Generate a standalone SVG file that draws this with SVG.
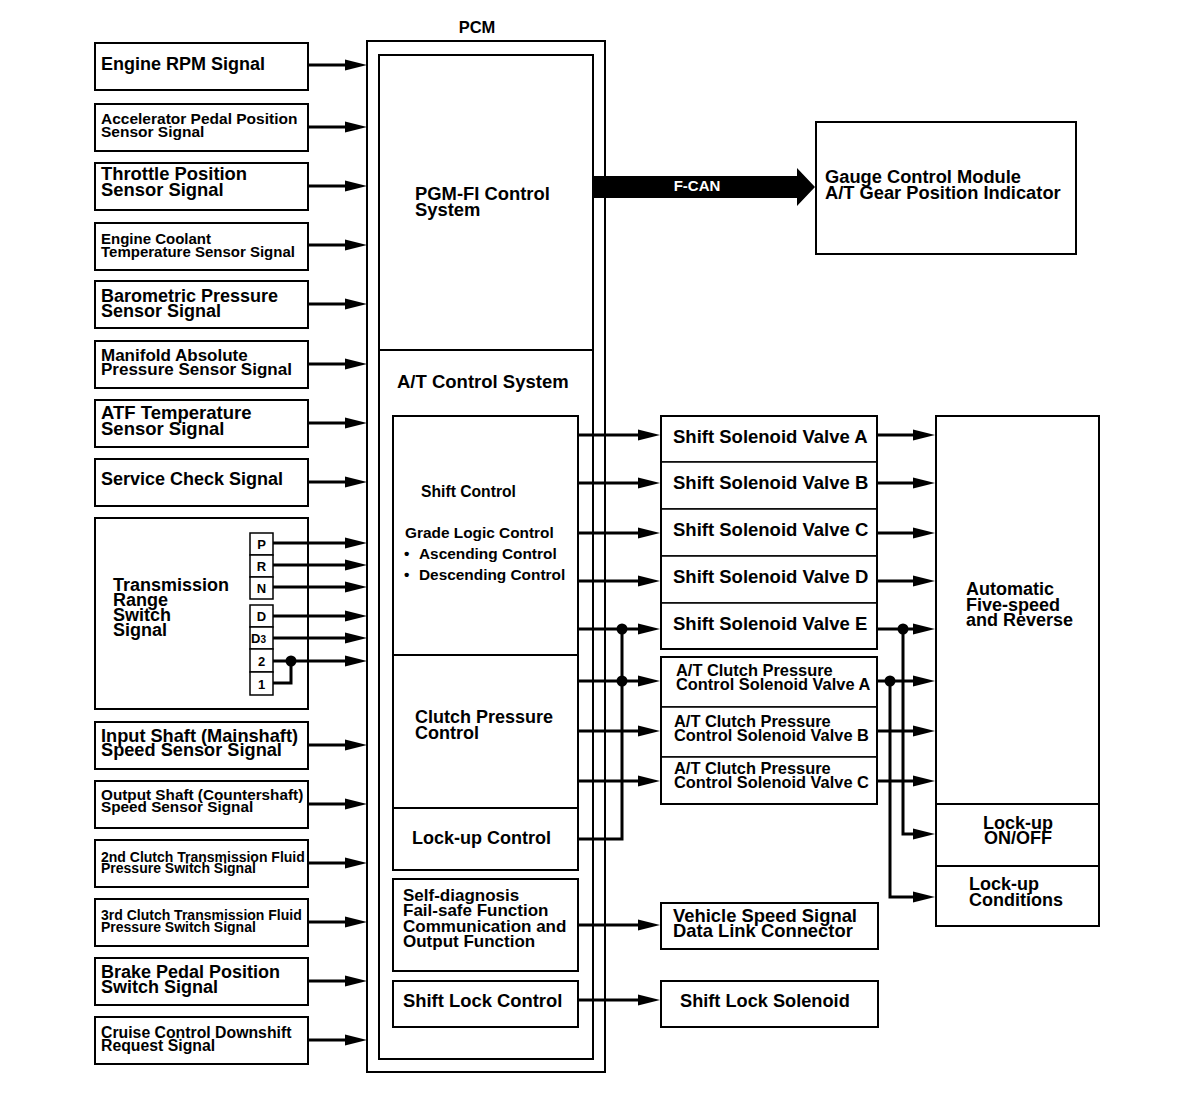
<svg xmlns="http://www.w3.org/2000/svg" width="1184" height="1102" viewBox="0 0 1184 1102">
<defs>
<style>
.box{fill:#fff;stroke:#000;stroke-width:2}
.cell{fill:#fff;stroke:#000;stroke-width:1.5}
.frame{fill:none;stroke:#000;stroke-width:2}
.ln{fill:none;stroke:#000;stroke-width:1.5}
.w{fill:none;stroke:#000;stroke-width:3}
.a{marker-end:url(#ah)}
.dot{fill:#000}
text{font-family:"Liberation Sans",Arial,Helvetica,sans-serif;font-weight:bold;fill:#000}
.mid{text-anchor:middle}
</style>
<marker id="ah" markerUnits="userSpaceOnUse" markerWidth="24" markerHeight="12" refX="10" refY="6" orient="auto" overflow="visible">
<path d="M0,0.5 L22,6 L0,11.5 Z" fill="#000"/>
</marker>
</defs>
<rect width="1184" height="1102" fill="#fff"/>

<!-- Input nodes -->
<g id="engine-rpm"><rect class="box" x="95" y="43" width="213" height="47"/><text x="101" y="70" font-size="18">Engine RPM Signal</text></g>
<g id="app-sensor"><rect class="box" x="95" y="104" width="213" height="47"/><text x="101" y="124" font-size="15.5">Accelerator Pedal Position<tspan x="101" dy="13">Sensor Signal</tspan></text></g>
<g id="tp-sensor"><rect class="box" x="95" y="163" width="213" height="47"/><text x="101" y="180" font-size="18.4">Throttle Position<tspan x="101" dy="16">Sensor Signal</tspan></text></g>
<g id="ect-sensor"><rect class="box" x="95" y="223" width="213" height="47"/><text x="101" y="244" font-size="15">Engine Coolant<tspan x="101" dy="13">Temperature Sensor Signal</tspan></text></g>
<g id="baro-sensor"><rect class="box" x="95" y="281" width="213" height="47"/><text x="101" y="301.5" font-size="18">Barometric Pressure<tspan x="101" dy="15">Sensor Signal</tspan></text></g>
<g id="map-sensor"><rect class="box" x="95" y="341" width="213" height="47"/><text x="101" y="361" font-size="17">Manifold Absolute<tspan x="101" dy="14">Pressure Sensor Signal</tspan></text></g>
<g id="atf-sensor"><rect class="box" x="95" y="400" width="213" height="47"/><text x="101" y="419" font-size="18.5">ATF Temperature<tspan x="101" dy="15.5">Sensor Signal</tspan></text></g>
<g id="service-check"><rect class="box" x="95" y="459" width="213" height="47"/><text x="101" y="485" font-size="18">Service Check Signal</text></g>
<g id="trans-range">
<rect class="box" x="95" y="518" width="213" height="191"/>
<text x="113" y="591" font-size="18">Transmission<tspan x="113" dy="15">Range</tspan><tspan x="113" dy="15">Switch</tspan><tspan x="113" dy="15">Signal</tspan></text>
<g id="range-P"><rect class="cell" x="250" y="533" width="23" height="22"/><text class="mid" x="261.5" y="549" font-size="13">P</text></g>
<g id="range-R"><rect class="cell" x="250" y="555" width="23" height="22"/><text class="mid" x="261.5" y="571" font-size="13">R</text></g>
<g id="range-N"><rect class="cell" x="250" y="577" width="23" height="22"/><text class="mid" x="261.5" y="593" font-size="13">N</text></g>
<g id="range-D"><rect class="cell" x="250" y="605" width="23" height="22"/><text class="mid" x="261.5" y="621" font-size="13">D</text></g>
<g id="range-D3"><rect class="cell" x="250" y="627" width="23" height="22"/><text x="251" y="643" font-size="13">D<tspan font-size="10">3</tspan></text></g>
<g id="range-2"><rect class="cell" x="250" y="649" width="23" height="23"/><text class="mid" x="261.5" y="666" font-size="13">2</text></g>
<g id="range-1"><rect class="cell" x="250" y="672" width="23" height="23"/><text class="mid" x="261.5" y="689" font-size="13">1</text></g>
</g>
<g id="input-shaft"><rect class="box" x="95" y="722" width="213" height="47"/><text x="101" y="741.5" font-size="18.2">Input Shaft (Mainshaft)<tspan x="101" dy="14">Speed Sensor Signal</tspan></text></g>
<g id="output-shaft"><rect class="box" x="95" y="781" width="213" height="47"/><text x="101" y="800" font-size="15.3">Output Shaft (Countershaft)<tspan x="101" dy="12">Speed Sensor Signal</tspan></text></g>
<g id="clutch2-switch"><rect class="box" x="95" y="840" width="213" height="47"/><text x="101" y="861.5" font-size="14">2nd Clutch Transmission Fluid<tspan x="101" dy="11.5">Pressure Switch Signal</tspan></text></g>
<g id="clutch3-switch"><rect class="box" x="95" y="899" width="213" height="47"/><text x="101" y="920" font-size="14">3rd Clutch Transmission Fluid<tspan x="101" dy="11.5">Pressure Switch Signal</tspan></text></g>
<g id="brake-switch"><rect class="box" x="95" y="958" width="213" height="47"/><text x="101" y="978" font-size="18">Brake Pedal Position<tspan x="101" dy="15">Switch Signal</tspan></text></g>
<g id="cruise-downshift"><rect class="box" x="95" y="1017" width="213" height="47"/><text x="101" y="1038" font-size="15.8">Cruise Control Downshift<tspan x="101" dy="13">Request Signal</tspan></text></g>

<!-- PCM -->
<g id="pcm">
<text class="mid" x="477" y="33" font-size="16.5">PCM</text>
<rect class="box" x="367" y="41" width="238" height="1031"/>
<rect class="box" x="379" y="55" width="214" height="1004"/>
<g id="pgm-fi"><line class="frame" x1="379" y1="350" x2="593" y2="350"/><text x="415" y="200" font-size="18.4">PGM-FI Control<tspan x="415" dy="15.5">System</tspan></text></g>
<g id="at-control"><text x="397" y="388" font-size="18.5">A/T Control System</text></g>
<g id="shift-control"><rect class="box" x="393" y="416" width="185" height="239"/>
<text x="421" y="497" font-size="15.7">Shift Control</text>
<text x="405" y="538" font-size="15.4">Grade Logic Control</text>
<text font-size="15.4" y="559"><tspan x="404">•</tspan><tspan x="419">Ascending Control</tspan></text>
<text font-size="15.4" y="580"><tspan x="404">•</tspan><tspan x="419">Descending Control</tspan></text></g>
<g id="clutch-pressure-control"><rect class="box" x="393" y="655" width="185" height="153"/><text x="415" y="723" font-size="18">Clutch Pressure<tspan x="415" dy="16">Control</tspan></text></g>
<g id="lockup-control"><rect class="box" x="393" y="808" width="185" height="62"/><text x="412" y="844" font-size="18">Lock-up Control</text></g>
<g id="self-diagnosis"><rect class="box" x="393" y="879" width="185" height="92"/><text x="403" y="901" font-size="17">Self-diagnosis<tspan x="403" dy="15.3">Fail-safe Function</tspan><tspan x="403" dy="15.3">Communication and</tspan><tspan x="403" dy="15.3">Output Function</tspan></text></g>
<g id="shift-lock-control"><rect class="box" x="393" y="981" width="185" height="46"/><text x="403" y="1007" font-size="18.4">Shift Lock Control</text></g>
</g>

<!-- Output nodes -->
<g id="gauge-module"><rect class="box" x="816" y="122" width="260" height="132"/><text x="825" y="183" font-size="18.3">Gauge Control Module<tspan x="825" dy="15.5">A/T Gear Position Indicator</tspan></text></g>
<g id="shift-solenoids">
<g id="ssv-a"><rect class="cell" x="661" y="416" width="216" height="46"/><text x="673" y="443" font-size="18.5">Shift Solenoid Valve A</text></g>
<g id="ssv-b"><rect class="cell" x="661" y="462" width="216" height="47"/><text x="673" y="489" font-size="18.5">Shift Solenoid Valve B</text></g>
<g id="ssv-c"><rect class="cell" x="661" y="509" width="216" height="47"/><text x="673" y="536" font-size="18.5">Shift Solenoid Valve C</text></g>
<g id="ssv-d"><rect class="cell" x="661" y="556" width="216" height="47"/><text x="673" y="583" font-size="18.5">Shift Solenoid Valve D</text></g>
<g id="ssv-e"><rect class="cell" x="661" y="603" width="216" height="46"/><text x="673" y="630" font-size="18.5">Shift Solenoid Valve E</text></g>
<rect class="frame" x="661" y="416" width="216" height="233"/>
</g>
<g id="clutch-solenoids">
<g id="atc-a"><rect class="cell" x="661" y="657" width="216" height="50"/><text x="676" y="676" font-size="16.4">A/T Clutch Pressure<tspan x="676" dy="14">Control Solenoid Valve A</tspan></text></g>
<g id="atc-b"><rect class="cell" x="661" y="707" width="216" height="50"/><text x="674" y="727" font-size="16.4">A/T Clutch Pressure<tspan x="674" dy="14">Control Solenoid Valve B</tspan></text></g>
<g id="atc-c"><rect class="cell" x="661" y="757" width="216" height="47"/><text x="674" y="774" font-size="16.4">A/T Clutch Pressure<tspan x="674" dy="14">Control Solenoid Valve C</tspan></text></g>
<rect class="frame" x="661" y="657" width="216" height="147"/>
</g>
<g id="vss-dlc"><rect class="box" x="661" y="903" width="217" height="46"/><text x="673" y="922" font-size="18.4">Vehicle Speed Signal<tspan x="673" dy="15">Data Link Connector</tspan></text></g>
<g id="shift-lock-solenoid"><rect class="box" x="661" y="981" width="217" height="46"/><text x="680" y="1007" font-size="18.2">Shift Lock Solenoid</text></g>
<g id="transmission">
<g id="auto-five-speed"><rect class="box" x="936" y="416" width="163" height="510"/><text x="966" y="595" font-size="18">Automatic<tspan x="966" dy="15.5">Five-speed</tspan><tspan x="966" dy="15.5">and Reverse</tspan></text></g>
<g id="lockup-onoff"><line class="frame" x1="936" y1="804" x2="1099" y2="804"/><text class="mid" x="1018" y="829" font-size="18">Lock-up<tspan x="1018" dy="15">ON/OFF</tspan></text></g>
<g id="lockup-conditions"><line class="frame" x1="936" y1="866" x2="1099" y2="866"/><text x="969" y="890" font-size="18">Lock-up<tspan x="969" dy="16">Conditions</tspan></text></g>
</g>

<!-- Connectors -->
<g id="connectors">
<g id="inputs">
<line class="w a" x1="308" y1="65" x2="355" y2="65"/>
<line class="w a" x1="308" y1="127" x2="355" y2="127"/>
<line class="w a" x1="308" y1="186" x2="355" y2="186"/>
<line class="w a" x1="308" y1="245" x2="355" y2="245"/>
<line class="w a" x1="308" y1="304" x2="355" y2="304"/>
<line class="w a" x1="308" y1="364" x2="355" y2="364"/>
<line class="w a" x1="308" y1="423" x2="355" y2="423"/>
<line class="w a" x1="308" y1="482" x2="355" y2="482"/>
<line class="w a" x1="273" y1="543" x2="355" y2="543"/>
<line class="w a" x1="273" y1="565" x2="355" y2="565"/>
<line class="w a" x1="273" y1="587" x2="355" y2="587"/>
<line class="w a" x1="273" y1="616" x2="355" y2="616"/>
<line class="w a" x1="273" y1="638" x2="355" y2="638"/>
<line class="w a" x1="273" y1="661" x2="355" y2="661"/>
<path class="w" d="M273,683 H291 V661"/>
<circle class="dot" cx="291" cy="661" r="5.5"/>
<line class="w a" x1="308" y1="745" x2="355" y2="745"/>
<line class="w a" x1="308" y1="804" x2="355" y2="804"/>
<line class="w a" x1="308" y1="863" x2="355" y2="863"/>
<line class="w a" x1="308" y1="922" x2="355" y2="922"/>
<line class="w a" x1="308" y1="981" x2="355" y2="981"/>
<line class="w a" x1="308" y1="1040" x2="355" y2="1040"/>
</g>
<g id="fcan">
<path d="M593,176 H797 V168 L815,187 L797,206 V198 H593 Z" fill="#000"/>
<text class="mid" x="697" y="191" font-size="15" style="fill:#fff">F-CAN</text>
</g>
<g id="outputs">
<line class="w a" x1="578" y1="435" x2="648" y2="435"/>
<line class="w a" x1="578" y1="483" x2="648" y2="483"/>
<line class="w a" x1="578" y1="533" x2="648" y2="533"/>
<line class="w a" x1="578" y1="581" x2="648" y2="581"/>
<line class="w a" x1="578" y1="629" x2="648" y2="629"/>
<line class="w a" x1="578" y1="681" x2="648" y2="681"/>
<line class="w a" x1="578" y1="731" x2="648" y2="731"/>
<line class="w a" x1="578" y1="781" x2="648" y2="781"/>
<path class="w" d="M578,839 H622 V629"/>
<circle class="dot" cx="622" cy="629" r="5.5"/>
<circle class="dot" cx="622" cy="681" r="5.5"/>
<line class="w a" x1="578" y1="925" x2="648" y2="925"/>
<line class="w a" x1="578" y1="1000" x2="648" y2="1000"/>
</g>
<g id="to-transmission">
<line class="w a" x1="877" y1="435" x2="923" y2="435"/>
<line class="w a" x1="877" y1="483" x2="923" y2="483"/>
<line class="w a" x1="877" y1="533" x2="923" y2="533"/>
<line class="w a" x1="877" y1="581" x2="923" y2="581"/>
<line class="w a" x1="877" y1="629" x2="923" y2="629"/>
<line class="w a" x1="877" y1="681" x2="923" y2="681"/>
<line class="w a" x1="877" y1="731" x2="923" y2="731"/>
<line class="w a" x1="877" y1="781" x2="923" y2="781"/>
<path class="w a" d="M903,629 V834 H923"/>
<path class="w a" d="M890,681 V897 H923"/>
<circle class="dot" cx="903" cy="629" r="5.5"/>
<circle class="dot" cx="890" cy="681" r="5.5"/>
</g>
</g>
</svg>
